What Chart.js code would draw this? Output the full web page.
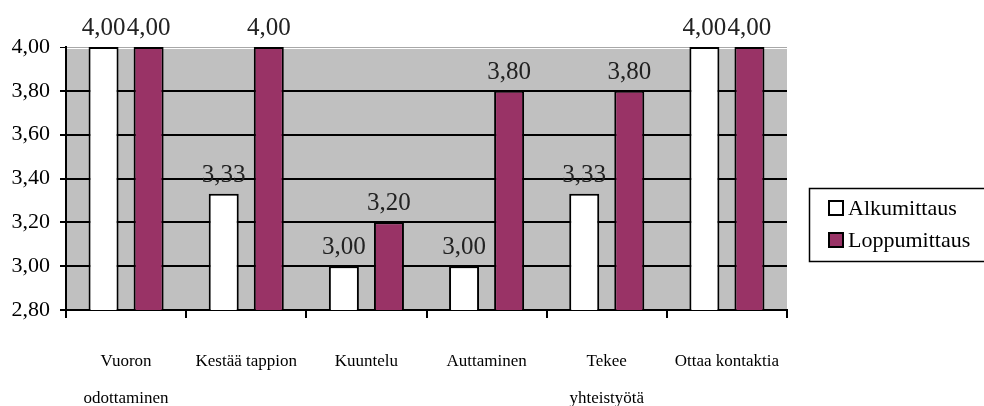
<!DOCTYPE html>
<html>
<head>
<meta charset="utf-8">
<script src="https://cdn.jsdelivr.net/npm/chart.js@4/dist/chart.umd.min.js"></script>
<style>
  html, body { margin: 0; padding: 0; background: #fff; }
  canvas { display: block; }
</style>
</head>
<body>
<canvas id="mittaus" width="984" height="406"></canvas>
<script>
// luokat ja mittaustulokset
const categories = [
  ["Vuoron", "odottaminen"],
  "Kestää tappion",
  "Kuuntelu",
  "Auttaminen",
  ["Tekee", "yhteistyötä"],
  "Ottaa kontaktia",
];
const alkumittaus = [4.0, 3.33, 3.0, 3.0, 3.33, 4.0];
const loppumittaus = [4.0, 4.0, 3.2, 3.8, 3.8, 4.0];

const yMin = 2.8;
const yMax = 4.0;
const yStep = 0.2;

const serif = '"Liberation Serif", "Times New Roman", serif';

function formatFi(value) {
  return Number(value).toFixed(2).replace(".", ",");
}

// harmaa piirtoalue
const plotBackground = {
  id: "plotBackground",
  beforeDraw(chart) {
    const { ctx, chartArea } = chart;
    ctx.save();
    ctx.fillStyle = "#fff";
    ctx.fillRect(0, 0, chart.width, chart.height);
    ctx.fillStyle = "#C0C0C0";
    ctx.fillRect(
      chartArea.left,
      chartArea.top + 2,
      chartArea.right - chartArea.left,
      chartArea.bottom - chartArea.top - 2
    );
    ctx.restore();
  },
};

// arvot pylväiden yläpuolelle
const barValues = {
  id: "barValues",
  afterDatasetsDraw(chart) {
    const { ctx } = chart;
    ctx.save();
    ctx.font = "25px " + serif;
    ctx.fillStyle = "#222";
    ctx.textAlign = "center";
    ctx.textBaseline = "alphabetic";
    chart.data.datasets.forEach((dataset, i) => {
      chart.getDatasetMeta(i).data.forEach((bar, j) => {
        ctx.fillText(formatFi(dataset.data[j]), bar.x, bar.y - 12);
      });
    });
    ctx.restore();
  },
};

// selite kehyksen kanssa
const boxLegend = {
  id: "boxLegend",
  afterDraw(chart) {
    const { ctx } = chart;
    const left = 809;
    const top = 188;
    ctx.save();
    ctx.strokeStyle = "#000";
    ctx.lineWidth = 1.5;
    ctx.strokeRect(left + 0.5, top + 0.5, 200, 73);
    chart.data.datasets.forEach((dataset, i) => {
      const y = top + 13 + i * 32;
      ctx.fillStyle = dataset.backgroundColor;
      ctx.fillRect(left + 20, y, 14, 14);
      ctx.lineWidth = 2;
      ctx.strokeRect(left + 20, y, 14, 14);
      ctx.fillStyle = "#000";
      ctx.font = "22px " + serif;
      ctx.textBaseline = "middle";
      ctx.textAlign = "left";
      ctx.fillText(dataset.label, left + 39, y + 8);
    });
    ctx.restore();
  },
};

new Chart(document.getElementById("mittaus"), {
  type: "bar",
  data: {
    labels: categories,
    datasets: [
      {
        label: "Alkumittaus",
        data: alkumittaus,
        backgroundColor: "#FFFFFF",
        borderColor: "#000",
        borderWidth: 2,
      },
      {
        label: "Loppumittaus",
        data: loppumittaus,
        backgroundColor: "#993366",
        borderColor: "#000",
        borderWidth: 2,
      },
    ],
  },
  options: {
    responsive: false,
    animation: false,
    categoryPercentage: 0.75,
    barPercentage: 0.666,
    layout: { padding: { top: 47, right: 197, left: 0, bottom: 0 } },
    plugins: {
      legend: { display: false },
      tooltip: { enabled: false },
    },
    scales: {
      x: {
        grid: {
          drawOnChartArea: false,
          color: "#000",
          lineWidth: 2,
          tickLength: 8,
          offset: true,
        },
        border: { color: "#000", width: 2 },
        ticks: {
          color: "#000",
          font: { family: serif, size: 17, lineHeight: 2.12 },
          padding: 26,
          maxRotation: 0,
          autoSkip: false,
        },
        afterFit(scale) {
          scale.height = 96;
        },
      },
      y: {
        min: yMin,
        max: yMax,
        ticks: {
          stepSize: yStep,
          color: "#000",
          font: { family: serif, size: 22 },
          padding: 10,
          callback: (value) => formatFi(value),
        },
        grid: {
          color: (ctx) => (ctx.tick && ctx.tick.value === yMax ? "#a8a8a8" : "#000"),
          lineWidth: (ctx) => (ctx.tick && ctx.tick.value === yMax ? 1 : 2),
          tickColor: "#000",
          tickLength: 6,
        },
        border: { color: "#000", width: 2 },
        afterFit(scale) {
          scale.width = 66;
        },
      },
    },
  },
  plugins: [plotBackground, barValues, boxLegend],
});
</script>
</body>
</html>
